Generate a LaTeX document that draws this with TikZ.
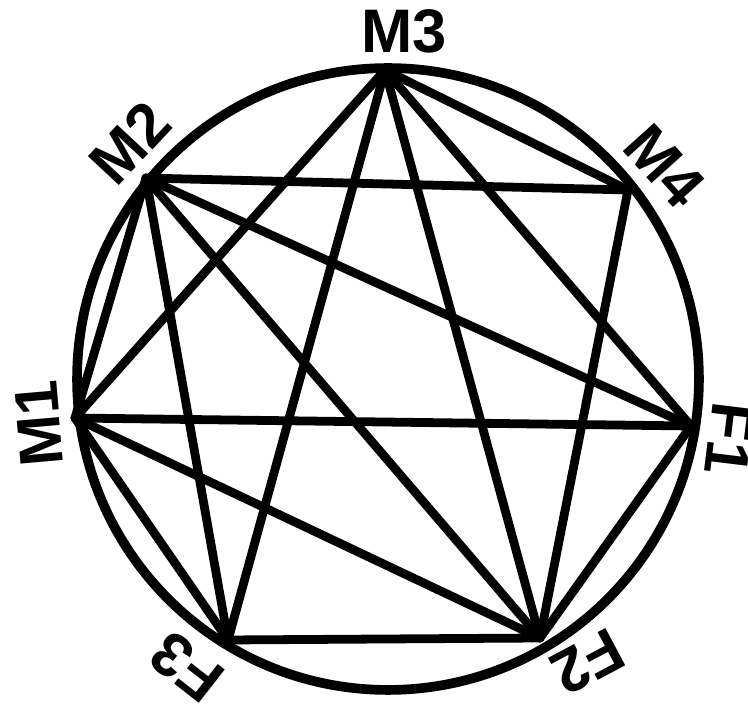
\documentclass[tikz,border=0pt]{standalone}
\usepackage{fontspec}
\setmainfont{Liberation Sans}
\usetikzlibrary{positioning}

\begin{document}
\begin{tikzpicture}[x=0.02cm, y=-0.02cm, line cap=round, line join=round]
  \tikzstyle{ring} = [draw, line width=5.5pt]
  \tikzstyle{tie} = [draw, line width=5pt]
  \tikzstyle{tag} = [font=\fontsize{35}{40}\selectfont\bfseries, inner sep=0pt]

  \useasboundingbox (0,0) rectangle (748,705);

  % seats on the ring
  \coordinate (M3) at (385,70);
  \coordinate (M2) at (146,178);
  \coordinate (M4) at (628,190);
  \coordinate (M1) at (75,418);
  \coordinate (F1) at (691,426);
  \coordinate (F2) at (540,638);
  \coordinate (F3) at (228,640);
  \coordinate (hub) at (388,379);

  \path[ring] (hub) circle (6.22cm);

  % names
  \node[tag] (M3_tag) at (404,31) {M3};
  \node[tag, rotate=47] (M2_tag) at (130,143) {M2};
  \node[tag, rotate=-48] (M4_tag) at (665,166) {M4};
  \node[tag, rotate=95] (M1_tag) at (39,424) {M1};
  \node[tag, rotate=-97] (F1_tag) at (730,439) {F1};
  \node[tag, rotate=-152] (F2_tag) at (588,662) {F2};
  \node[tag, rotate=142] (F3_tag) at (187,667) {F3};

  % ties
  \path[tie] (M3) -- (M1);
  \path[tie] (M3) -- (F3);
  \path[tie] (M3) -- (F2);
  \path[tie] (M3) -- (F1);
  \path[tie] (M3) -- (M4);
  \path[tie] (M2) -- (M4);
  \path[tie] (M2) -- (F1);
  \path[tie] (M2) -- (F2);
  \path[tie] (M2) -- (F3);
  \path[tie] (M2) -- (M1);
  \path[tie] (M4) -- (F2);
  \path[tie] (M1) -- (F1);
  \path[tie] (M1) -- (F2);
  \path[tie] (M1) -- (F3);
  \path[tie] (F1) -- (F2);
  \path[tie] (F2) -- (F3);
\end{tikzpicture}
\end{document}
